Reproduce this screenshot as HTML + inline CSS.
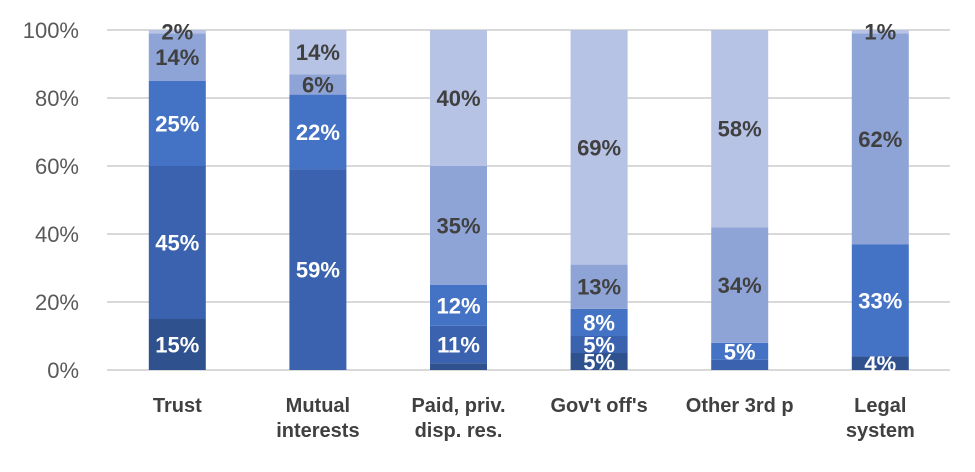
<!DOCTYPE html>
<html><head><meta charset="utf-8"><style>
body{margin:0;background:#fff;}
svg text{font-family:"Liberation Sans",Arial,sans-serif;}
</style></head><body>
<svg id="c" width="975" height="467"></svg>
<script>
const categories=[["Trust"],["Mutual","interests"],["Paid, priv.","disp. res."],["Gov't off's"],["Other 3rd p"],["Legal","system"]];
const s0=[15,0,2,5,0,4];
const s1=[45,59,11,5,3,0];
const s2=[25,22,12,8,5,33];
const s3=[14,6,35,13,34,62];
const s4=[2,14,40,69,58,1];
const yTicks=[0,20,40,60,80,100];
const series=[s0,s1,s2,s3,s4];
const colors=["#2F528F","#3A62AE","#4472C4","#8FA4D6","#B7C3E5"];
const labelColors=["#fff","#fff","#fff","#404040","#404040"];
const svg=document.getElementById('c');
const NS="http://www.w3.org/2000/svg";
const y0=370,y1=30,x0=107,step=140.6,bw=57;
const yS=v=>y0-(v/100)*(y0-y1);
const xC=i=>x0+step*(i+0.5);
function el(t,a,p){const e=document.createElementNS(NS,t);for(const k in a)e.setAttribute(k,a[k]);(p||svg).appendChild(e);return e;}
yTicks.forEach(t=>{
  const g=el('line',{x1:x0,x2:950,y1:yS(t),y2:yS(t),stroke:"#D9D9D9","stroke-width":2});
  
  
  const tx=el('text',{x:79,y:yS(t)+8,"text-anchor":"end","font-size":22,fill:"#595959"});
  tx.textContent=t+"%";
  
  
});
categories.forEach((c,i)=>{
  let cum=0;
  series.forEach((s,k)=>{
    const v=s[i];
    if(v<=0)return;
    const top=Math.min(cum+v,100);
    const r=el('rect',{x:xC(i)-bw/2,y:yS(top),width:bw,height:yS(cum)-yS(top),fill:colors[k]});
    
    
    if(v>=4||k===4){
      const t=el('text',{x:xC(i),y:(yS(cum)+yS(top))/2+8,"text-anchor":"middle","font-size":22,"font-weight":"bold",fill:labelColors[k]});
      t.textContent=v+"%";
      
      
    }
    cum=top;
  });
  const t=el('text',{x:xC(i),y:412,"text-anchor":"middle","font-size":20,"font-weight":"bold",fill:"#404040"});
  
  
  c.forEach((ln,j)=>{const ts=el('tspan',{x:xC(i),dy:j?25:0},t);ts.textContent=ln;});
});
</script>
</body></html>
